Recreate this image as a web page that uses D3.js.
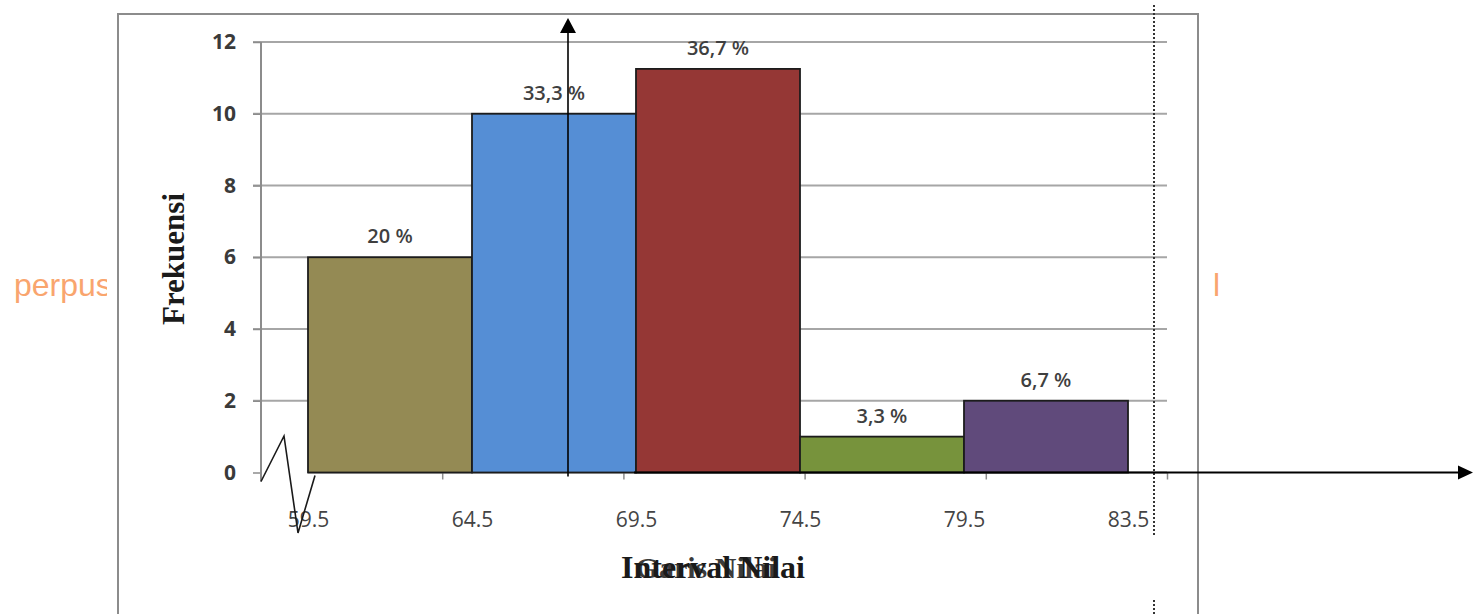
<!DOCTYPE html>
<html>
<head>
<meta charset="utf-8">
<script src="https://cdn.jsdelivr.net/npm/d3@7"></script>
<style>
  body { margin: 0; background: #fff; }
  svg { display: block; }
  .tick text { font-family: "Open Sans", sans-serif; }
</style>
</head>
<body>
<svg id="chart" width="1473" height="614"></svg>
<script>
// data
const edgeLabels = ["59.5", "64.5", "69.5", "74.5", "79.5", "83.5"];
const frequencies = [6, 10, 11.25, 1, 2];
const percentLabels = ["20 %", "33,3 %", "36,7 %", "3,3 %", "6,7 %"];
const yTicks = [0, 2, 4, 6, 8, 10, 12];
const categoryCount = 5;

// styling
const barColors = ["#948a54", "#558ed5", "#953735", "#77933c", "#604a7b"];
const W = 1473, H = 614;
const plot = { left: 261, top: 42, bottom: 472.5, right: 1167 };

const svg = d3.select("#chart");

// watermark bits behind the picture
svg.append("text")
  .attr("x", 14).attr("y", 296)
  .attr("font-family", "Liberation Sans, Arial, sans-serif")
  .attr("font-size", 32)
  .attr("fill", "#f9a56e")
  .text("perpus");
svg.append("text")
  .attr("x", 1213).attr("y", 296)
  .attr("font-family", "Liberation Sans, Arial, sans-serif")
  .attr("font-size", 32)
  .attr("fill", "#f9a56e")
  .text("l");

// chart area (white) + frame
svg.append("rect")
  .attr("x", 107).attr("y", 0).attr("width", 1205 - 107).attr("height", H)
  .attr("fill", "#fff");
svg.append("path")
  .attr("d", `M118,${H} V14 H1198 V${H}`)
  .attr("fill", "none").attr("stroke", "#8c8c8c").attr("stroke-width", 2);

// scales
const y = d3.scaleLinear().domain([0, 12]).range([plot.bottom, plot.top]);
// excel category axis underneath
const xCat = d3.scaleLinear().domain([0, categoryCount]).range([plot.left, plot.right]);
// class-interval edges (index based)
const xBin = d3.scaleLinear().domain([0, edgeLabels.length - 1]).range([308, 1128]);

// gridlines
svg.append("g")
  .selectAll("line")
  .data(yTicks.filter(d => d > 0))
  .join("line")
  .attr("x1", plot.left - 8).attr("x2", plot.right)
  .attr("y1", d => y(d)).attr("y2", d => y(d))
  .attr("stroke", "#a6a6a6").attr("stroke-width", 2);

// y axis
const yAxis = svg.append("g")
  .attr("transform", `translate(${plot.left},0)`)
  .call(d3.axisLeft(y).tickValues(yTicks).tickSize(8).tickPadding(17));
yAxis.select(".domain").remove();
yAxis.selectAll(".tick line").attr("stroke", "#8c8c8c").attr("stroke-width", 1.5);
yAxis.selectAll(".tick text")
  .attr("font-size", 21).attr("font-weight", 700).attr("fill", "#3a3a3a");
svg.append("line")
  .attr("x1", plot.left).attr("x2", plot.left)
  .attr("y1", y(12)).attr("y2", plot.bottom + 9)
  .attr("stroke", "#8c8c8c").attr("stroke-width", 2);

// excel category axis line + ticks
svg.append("line")
  .attr("x1", xBin(0)).attr("x2", plot.right)
  .attr("y1", y(0)).attr("y2", y(0))
  .attr("stroke", "#8c8c8c").attr("stroke-width", 2);
const catAxis = svg.append("g")
  .attr("transform", `translate(0,${y(0)})`)
  .call(d3.axisBottom(xCat).tickValues(d3.range(1, categoryCount + 1)).tickSize(7).tickFormat(""));
catAxis.select(".domain").remove();
catAxis.selectAll(".tick line").attr("stroke", "#8c8c8c").attr("stroke-width", 1.5);

// bars
svg.append("g")
  .selectAll("rect")
  .data(frequencies)
  .join("rect")
  .attr("x", (d, i) => xBin(i))
  .attr("y", d => y(d))
  .attr("width", (d, i) => xBin(i + 1) - xBin(i))
  .attr("height", d => y(0) - y(d))
  .attr("fill", (d, i) => barColors[i])
  .attr("stroke", "#1c1c1c").attr("stroke-width", 1.8);

// percentage labels
svg.append("g")
  .selectAll("text")
  .data(frequencies)
  .join("text")
  .attr("x", (d, i) => (xBin(i) + xBin(i + 1)) / 2)
  .attr("y", d => y(d) - 14)
  .attr("text-anchor", "middle")
  .attr("font-family", "Open Sans, sans-serif")
  .attr("font-size", 20).attr("font-weight", 600)
  .attr("fill", "#3f3f3f")
  .text((d, i) => percentLabels[i]);

// x tick labels at interval edges
const xAxis = svg.append("g")
  .attr("transform", `translate(0,${y(0)})`)
  .call(d3.axisBottom(xBin).tickValues(d3.range(edgeLabels.length))
    .tickSize(0).tickPadding(40).tickFormat(i => edgeLabels[i]));
xAxis.select(".domain").remove();
xAxis.selectAll(".tick text")
  .attr("font-size", 21).attr("fill", "#444");

// axis titles
svg.append("text")
  .attr("transform", "translate(184,259) rotate(-90)")
  .attr("text-anchor", "middle")
  .attr("font-family", "Liberation Serif, Times New Roman, serif")
  .attr("font-weight", 700).attr("font-size", 31)
  .attr("fill", "#1a1a1a")
  .text("Frekuensi");
svg.append("text")
  .attr("x", 713).attr("y", 578)
  .attr("text-anchor", "middle")
  .attr("font-family", "Liberation Serif, Times New Roman, serif")
  .attr("font-weight", 700).attr("font-size", 32)
  .attr("fill", "#1a1a1a")
  .text("Interval Nilai");
svg.append("text")
  .attr("x", 706).attr("y", 578)
  .attr("text-anchor", "middle")
  .attr("font-family", "Liberation Serif, Times New Roman, serif")
  .attr("font-weight", 700).attr("font-size", 30)
  .attr("fill", "#1a1a1a").attr("opacity", 0.85)
  .text("Garis Nilai");

// break mark (zigzag) at the origin
svg.append("path")
  .attr("d", `M${plot.left},${plot.bottom + 9} L284,436 L298,533 L315,${plot.bottom + 3}`)
  .attr("fill", "none").attr("stroke", "#1a1a1a").attr("stroke-width", 1.6);

// dotted vertical guide
[[5, 535], [600, H]].forEach(([a, b]) => {
  svg.append("line")
    .attr("x1", 1154).attr("x2", 1154).attr("y1", a).attr("y2", b)
    .attr("stroke", "#333").attr("stroke-width", 2).attr("stroke-dasharray", "2,2");
});

// hand-drawn arrows
const arrowX = 568;
svg.append("line")
  .attr("x1", arrowX).attr("x2", arrowX).attr("y1", y(0) + 4).attr("y2", 30)
  .attr("stroke", "#000").attr("stroke-width", 1.6);
svg.append("path")
  .attr("d", `M${arrowX},18 L${arrowX - 8},33 L${arrowX + 8},33 Z`).attr("fill", "#000");
svg.append("line")
  .attr("x1", xBin(2) - 2).attr("x2", W - 12).attr("y1", y(0)).attr("y2", y(0))
  .attr("stroke", "#000").attr("stroke-width", 2.2);
svg.append("path")
  .attr("d", `M${W},${y(0)} L${W - 15},${y(0) - 7} L${W - 15},${y(0) + 7} Z`).attr("fill", "#000");
</script>
</body>
</html>
